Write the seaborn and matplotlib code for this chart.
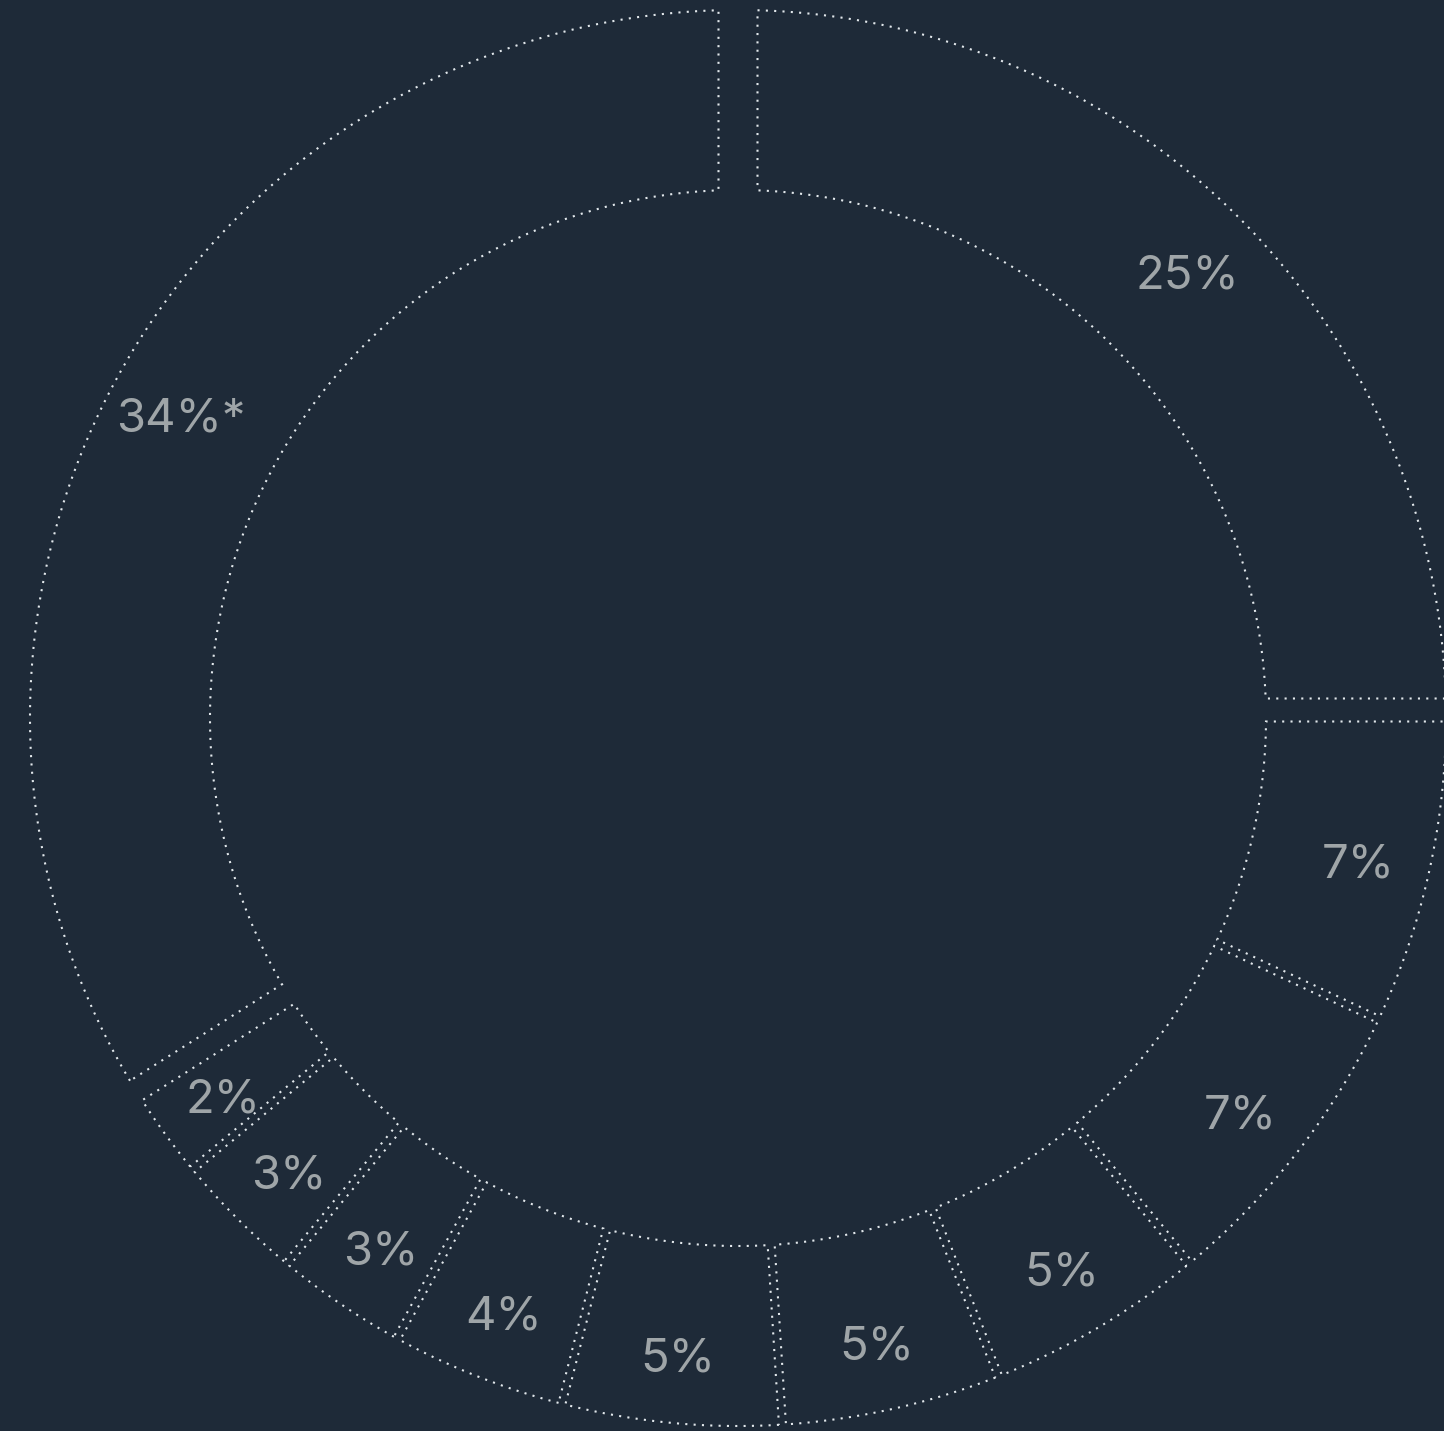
import numpy as np
import matplotlib.pyplot as plt
from matplotlib.patches import Polygon
import seaborn as sns

# slice shares, clockwise from 12 o'clock
labels = ["25%", "7%", "7%", "5%", "5%", "5%", "4%", "3%", "3%", "2%", "34%*"]
shares = [25, 7, 7, 5, 5, 5, 4, 3, 3, 2, 34]

bg = "#1e2a38"
line_col = "#e2e8ec"
text_col = "#9fa5a8"

sns.set_theme(style="dark", rc={"axes.facecolor": bg, "figure.facecolor": bg})
plt.rcParams["font.family"] = ["Inter", "DejaVu Sans"]

px = 708.0                 # pixels per unit radius
r_out, r_in = 1.0, 528 / px
label_r = 636 / px

fig = plt.figure(figsize=(14.44, 14.31), dpi=100)
ax = fig.add_axes([0, 0, 1, 1])
ax.set_xlim(-738 / px, 706 / px)
ax.set_ylim(-713 / px, 718 / px)
ax.set_aspect("equal")
ax.axis("off")


def sector(a1, a2, inset, n=200):
    # annular sector with straight edges pushed inward by a constant distance
    o1, o2 = a1 + np.arcsin(inset / r_out), a2 - np.arcsin(inset / r_out)
    i1, i2 = a1 + np.arcsin(inset / r_in), a2 - np.arcsin(inset / r_in)
    t_out = np.linspace(o1, o2, n)
    t_in = np.linspace(i2, i1, n)
    xs = np.concatenate([r_out * np.sin(t_out), r_in * np.sin(t_in)])
    ys = np.concatenate([r_out * np.cos(t_out), r_in * np.cos(t_in)])
    return np.column_stack([xs, ys])


frac = np.array(shares) / np.sum(shares)
ends = np.cumsum(frac) * 2 * np.pi
starts = ends - frac * 2 * np.pi

for lab, v, a1, a2 in zip(labels, shares, starts, ends):
    inset = (19.5 if v >= 20 else 3.5) / px
    poly = Polygon(sector(a1, a2, inset), closed=True, fill=False,
                   edgecolor=line_col, linewidth=1.5, linestyle=(0, (1, 3)))
    ax.add_patch(poly)
    mid = (a1 + a2) / 2
    ax.annotate(lab, (label_r * np.sin(mid), label_r * np.cos(mid)),
                xytext=(0, -6), textcoords="offset points",
                ha="center", va="center", fontsize=34, color=text_col)

fig.savefig("out.png", dpi=100, facecolor=bg)
